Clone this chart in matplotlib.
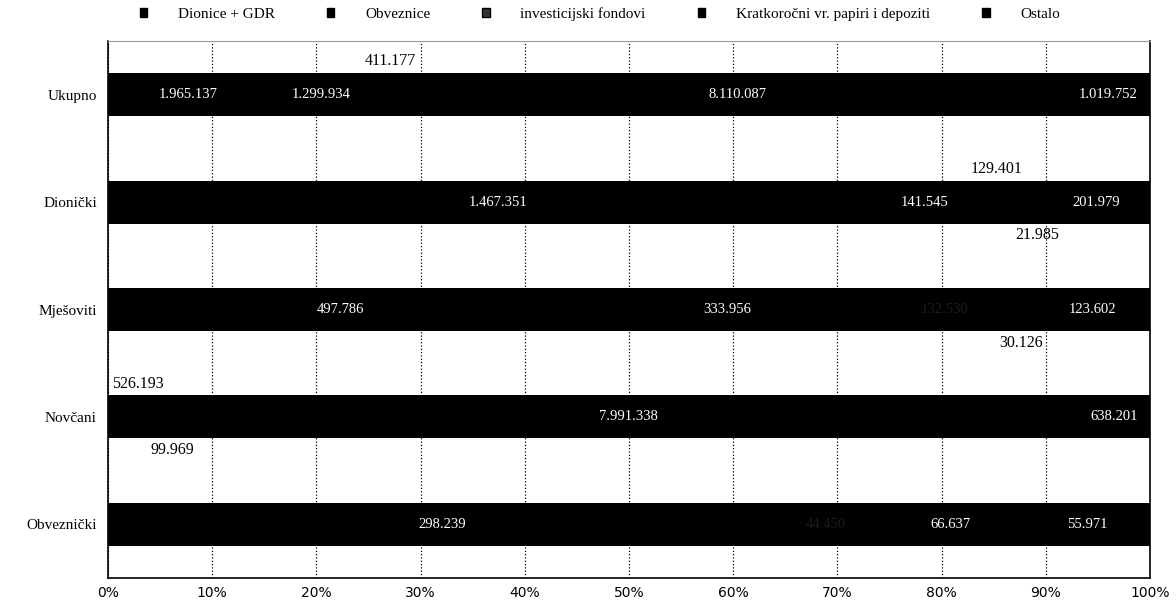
import matplotlib.pyplot as plt
import numpy as np
from matplotlib.patches import Patch

# data
categories = ["Ukupno", "Dionički", "Mješoviti", "Novčani", "Obveznički"]
series = ["Dionice + GDR", "Obveznice", "investicijski fondovi",
          "Kratkoročni vr. papiri i depoziti", "Ostalo"]
dionice = [1965137, 1467351, 497786, 0, 0]
obveznice = [1299934, 141545, 333956, 526193, 298239]
fondovi = [411177, 129401, 132530, 99969, 44450]
kratkorocni = [8110087, 21985, 30126, 7991338, 66637]
ostalo = [1019752, 201979, 123602, 638201, 55971]

# labels moved outside of the bar: (row, series) -> side
outside = {(0, 2): "above", (1, 2): "above", (1, 3): "below",
           (2, 3): "below", (3, 1): "above", (3, 2): "below"}

serif = "Liberation Serif"
data = np.array([dionice, obveznice, fondovi, kratkorocni, ostalo], dtype=float)
share = data / data.sum(axis=0) * 100

fig = plt.figure(figsize=(11.76, 6.06), dpi=100)
ax = fig.add_axes([108 / 1176, 1 - 578 / 606, (1150 - 108) / 1176, (578 - 41) / 606])

y = np.arange(len(categories))
bar_h = 0.4
left = np.zeros(len(categories))
for s in range(len(series)):
    ax.barh(y, share[s], left=left, height=bar_h, color="black", zorder=2)
    for i in range(len(categories)):
        v = data[s, i]
        if v == 0:
            continue
        txt = f"{int(v):,}".replace(",", ".")
        xc = left[i] + share[s, i] / 2
        side = outside.get((i, s))
        if side == "above":
            ax.text(xc, i - bar_h / 2 - 0.11, txt, ha="center", va="center",
                    fontsize=11.5, family=serif, color="black", zorder=3)
        elif side == "below":
            ax.text(xc, i + bar_h / 2 + 0.11, txt, ha="center", va="center",
                    fontsize=11.5, family=serif, color="black", zorder=3)
        else:
            col = "#1c1c1c" if s == 2 else "white"
            ax.text(xc, i, txt, ha="center", va="center", fontsize=10.5,
                    family=serif, color=col, zorder=3)
    left += share[s]

ax.set_xlim(0, 100)
ax.set_ylim(len(categories) - 0.5, -0.5)
ax.set_yticks(y)
ax.set_yticklabels(categories, family=serif, fontsize=11)
ax.set_xticks(np.arange(0, 101, 10))
ax.set_xticklabels([f"{t}%" for t in range(0, 101, 10)], fontsize=10,
                   family="DejaVu Sans")
ax.tick_params(length=0, pad=8)
ax.tick_params(axis="x", pad=6)
ax.grid(axis="x", color="black", linestyle=":", linewidth=0.9, zorder=0)
for sp in ["left", "right", "bottom"]:
    ax.spines[sp].set_linewidth(1.2)
ax.spines["top"].set_color("#999999")
ax.spines["top"].set_linewidth(0.8)

handles = [Patch(facecolor="black" if k != 2 else "#333333", edgecolor="black")
           for k in range(len(series))]
fig.legend(handles, series, loc="center", bbox_to_anchor=(0.51, 1 - 14 / 606),
           ncol=5, frameon=False, prop={"family": serif, "size": 11},
           handlelength=0.5, handleheight=0.5, columnspacing=3.4, handletextpad=2.0)

fig.savefig("out.png", dpi=100)
